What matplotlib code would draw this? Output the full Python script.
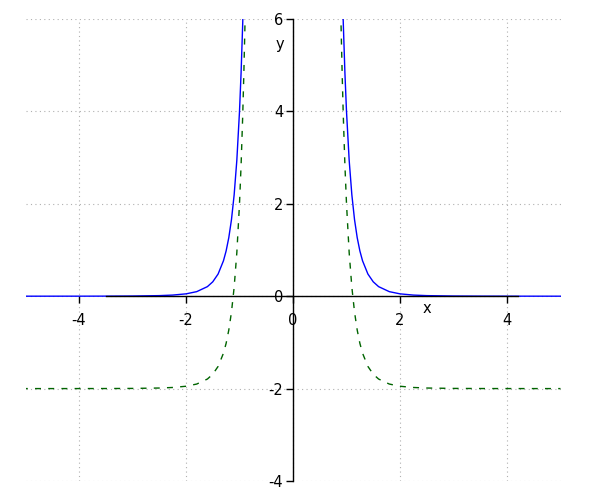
import matplotlib
matplotlib.use("Agg")
import matplotlib.pyplot as plt

plt.rcParams['axes.unicode_minus'] = False
plt.rcParams['font.family'] = ['DejaVu Sans']

# values (right branch, mirrored for the left branch)
x_right = [0.88, 0.90, 0.92, 0.94, 0.97, 1.00, 1.05, 1.10, 1.15, 1.20, 1.25,
           1.30, 1.40, 1.50, 1.60, 1.80, 2.00, 2.25, 2.50, 3.00, 3.50, 4.00, 5.00]
blue_right = [8.949, 7.769, 6.764, 5.907, 4.846, 4.000, 2.941, 2.194, 1.658, 1.268, 0.980,
              0.766, 0.480, 0.311, 0.207, 0.0985, 0.0508, 0.0242, 0.0124, 0.0039, 0.0015, 0.00065, 0.00016]
green_right = [6.949, 5.769, 4.764, 3.907, 2.846, 2.000, 0.941, 0.194, -0.342, -0.732, -1.020,
               -1.234, -1.520, -1.689, -1.793, -1.9015, -1.9492, -1.9758, -1.9876, -1.9961, -1.9985, -1.99935, -1.99984]

x_left = [-v for v in x_right]

x_ticks = [-4, -2, 0, 2, 4]
y_ticks = [-4, -2, 0, 2, 4, 6]

fig = plt.figure(figsize=(6, 5), dpi=100)
ax = fig.add_axes([25.5 / 600, 1 - 481 / 500, (560.5 - 25.5) / 600, (481 - 19) / 500])

ax.plot(x_left, blue_right, color='#0000ff', lw=1.0)
ax.plot(x_right, blue_right, color='#0000ff', lw=1.0)
ax.plot(x_left, green_right, color='#006400', lw=1.0, dashes=(4.3, 5.2))
ax.plot(x_right, green_right, color='#006400', lw=1.0, dashes=(4.3, 5.2))

ax.set_xlim(-5, 5)
ax.set_ylim(-4, 6)
ax.set_xticks(x_ticks)
ax.set_yticks(y_ticks)
ax.set_xticklabels([str(t) for t in x_ticks])
ax.set_yticklabels([str(t) for t in y_ticks])

for side in ['top', 'right']:
    ax.spines[side].set_visible(False)
ax.spines['left'].set_position(('data', 0))
ax.spines['bottom'].set_position(('data', 0))
ax.spines['bottom'].set_bounds(-3.5, 4.2)
for side in ['left', 'bottom']:
    ax.spines[side].set_linewidth(1.0)
    ax.spines[side].set_color('black')

ax.tick_params(axis='both', direction='out', length=5, width=1.0,
               labelsize=10.5, colors='black')
ax.tick_params(axis='x', pad=7)
ax.tick_params(axis='y', pad=2)

ax.grid(True, linestyle=(0, (1, 3)), color='#b0b0b0', lw=0.8)
ax.set_axisbelow(True)

ax.text(2.5, -0.27, 'x', fontsize=10.5, ha='center', va='center')
ax.text(-0.24, 5.45, 'y', fontsize=10.5, ha='center', va='center')

fig.savefig('out.png', dpi=100)
